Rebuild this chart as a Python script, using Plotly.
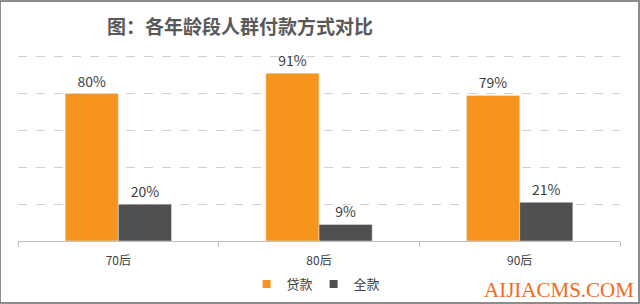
import plotly.graph_objects as go

categories = ["70后", "80后", "90后"]
loan = [80, 91, 79]
full = [20, 9, 21]
series_names = ["贷款", "全款"]

W, H = 640, 304
ml, mr, mt, mb = 18, 20, 53, 63
FONT = "Noto Sans CJK SC"
ORANGE, GRAY = "#F7941E", "#505050"

fig = go.Figure()
fig.add_bar(x=categories, y=loan, name=series_names[0], marker_color=ORANGE,
            text=[f"{v}%" for v in loan], textposition="outside",
            textfont=dict(size=14, color="#404040", family=FONT), cliponaxis=False,
            showlegend=False)
fig.add_bar(x=categories, y=full, name=series_names[1], marker_color=GRAY,
            text=[f"{v}%" for v in full], textposition="outside",
            textfont=dict(size=14, color="#404040", family=FONT), cliponaxis=False,
            showlegend=False)
# legend entries with small square markers
for name, col in zip(series_names, [ORANGE, GRAY]):
    fig.add_scatter(x=[None], y=[None], mode="markers", name=name,
                    marker=dict(symbol="square", size=8, color=col))

fig.update_layout(
    width=W, height=H,
    margin=dict(l=ml, r=mr, t=mt, b=mb, autoexpand=False),
    paper_bgcolor="white", plot_bgcolor="white",
    barmode="group", bargap=0.47, bargroupgap=0,
    font=dict(family=FONT, color="#404040"),
    title=dict(text="<b>图：各年龄段人群付款方式对比</b>", x=0.375, xanchor="center",
               y=1 - 27 / H, yanchor="middle",
               font=dict(size=19, color="#595959", family=FONT)),
    legend=dict(orientation="h", xref="container", x=0.49, xanchor="center",
                yref="container", y=1 - 284 / H, yanchor="middle",
                font=dict(size=13, color="#404040", family=FONT), itemwidth=30,
                entrywidth=22, entrywidthmode="pixels",
                tracegroupgap=0, traceorder="normal", bgcolor="rgba(0,0,0,0)"),
    showlegend=True,
)
fig.update_xaxes(showline=True, linecolor="#bfbfbf", linewidth=1,
                 ticks="outside", tickson="boundaries", ticklen=5, tickcolor="#bfbfbf",
                 ticklabelstandoff=9,
                 tickfont=dict(size=12, color="#404040", family=FONT), showgrid=False)
fig.update_yaxes(range=[0, 102], tickvals=[20, 40, 60, 80, 100], showticklabels=False,
                 showgrid=True, gridcolor="#d0d0d0", griddash="dash",
                 zeroline=False, showline=False)

PH = H - mt - mb
PW = W - ml - mr
# watermark
fig.add_annotation(text="AIJIACMS.COM", xref="paper", yref="paper",
                   x=(636 - ml) / PW, xanchor="right",
                   y=(H - mb - 290) / PH, yanchor="middle",
                   showarrow=False,
                   font=dict(size=21, color="#F26B1D", family="Liberation Serif"))
# frame
fig.add_shape(type="rect", xref="paper", yref="paper",
              x0=-ml / PW, x1=1 + (mr - 1) / PW,
              y0=-(mb - 1) / PH, y1=1 + (mt - 1) / PH,
              line=dict(color="#8c8c8c", width=2), layer="above")

fig.write_html("out.html")
